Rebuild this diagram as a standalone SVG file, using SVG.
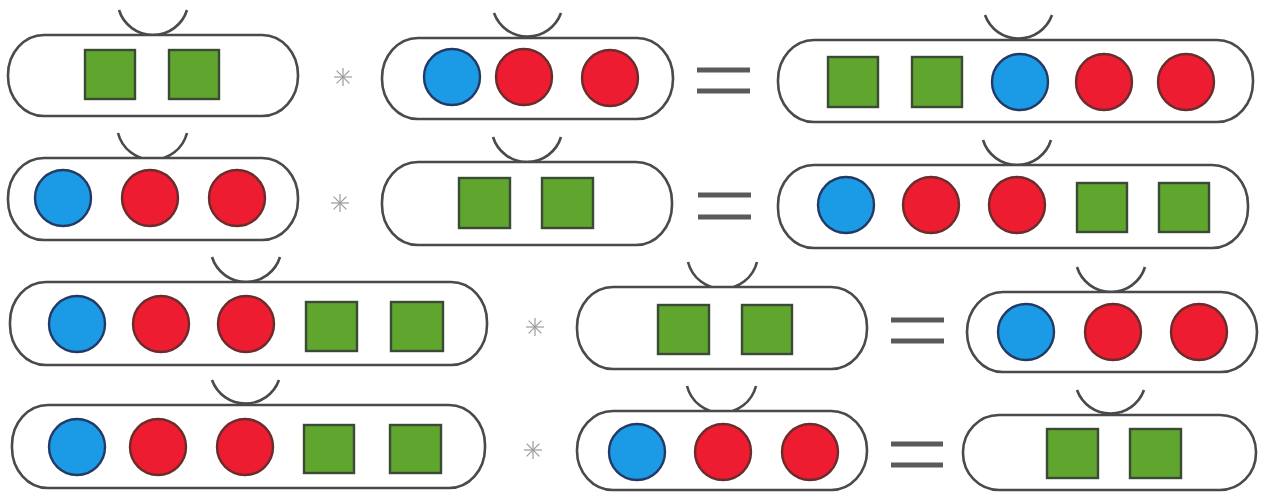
<svg xmlns="http://www.w3.org/2000/svg" width="1263" height="492" viewBox="0 0 1263 492">
<style>
.pill{fill:#fff;stroke:#4a4a4a;stroke-width:2.6}
.hdl{fill:none;stroke:#4a4a4a;stroke-width:2.6}
.sq{fill:#5fa52e;stroke:#3b4a34;stroke-width:2.4}
.bl{fill:#1b9be6;stroke:#243a66;stroke-width:2.4}
.rd{fill:#ee1c30;stroke:#6b2c2c;stroke-width:2.4}
.eq{stroke:#5a5a5a;stroke-width:5}
.ast{stroke:#9a9a9a;stroke-width:1.2}
</style>
<defs>
<g id="star"><line class="ast" x1="-9" y1="0" x2="9" y2="0"/><line class="ast" x1="0" y1="-9" x2="0" y2="9"/><line class="ast" x1="-6.4" y1="-6.4" x2="6.4" y2="6.4"/><line class="ast" x1="-6.4" y1="6.4" x2="6.4" y2="-6.4"/></g>
</defs>
<rect width="1263" height="492" fill="#fff"/>

<g id="connectors">
<use href="#star" x="343" y="77"/>
<use href="#star" x="340" y="203"/>
<use href="#star" x="535" y="327"/>
<use href="#star" x="533" y="450"/>
<line class="eq" x1="697" y1="70" x2="750" y2="70"/><line class="eq" x1="697" y1="91" x2="750" y2="91"/>
<line class="eq" x1="698" y1="195" x2="751" y2="195"/><line class="eq" x1="698" y1="217" x2="751" y2="217"/>
<line class="eq" x1="891" y1="320" x2="944" y2="320"/><line class="eq" x1="891" y1="341" x2="944" y2="341"/>
<line class="eq" x1="891" y1="444" x2="943" y2="444"/><line class="eq" x1="891" y1="465" x2="943" y2="465"/>
</g>

<!-- Row 1 -->
<g id="r1a">
<path class="hdl" d="M119,10 A35.6,35.6 0 0 0 187,10"/>
<rect class="pill" x="8" y="35" width="290" height="81" rx="36" ry="40"/>
<rect class="sq" x="85" y="50" width="50" height="49"/>
<rect class="sq" x="169" y="50" width="50" height="49"/>
</g>
<g id="r1b">
<path class="hdl" d="M494,13 A35.6,35.6 0 0 0 561,13"/>
<rect class="pill" x="382" y="38" width="291" height="81" rx="36" ry="40"/>
<circle class="bl" cx="452" cy="77" r="28"/>
<circle class="rd" cx="524" cy="77" r="28"/>
<circle class="rd" cx="610" cy="78" r="28"/>
</g>
<g id="r1c">
<path class="hdl" d="M985,15 A35.6,35.6 0 0 0 1052,15"/>
<rect class="pill" x="778" y="40" width="475" height="82" rx="36" ry="40"/>
<rect class="sq" x="828" y="57" width="50" height="50"/>
<rect class="sq" x="912" y="57" width="50" height="50"/>
<circle class="bl" cx="1020" cy="82" r="28"/>
<circle class="rd" cx="1104" cy="82" r="28"/>
<circle class="rd" cx="1186" cy="82" r="28"/>
</g>

<!-- Row 2 -->
<g id="r2a">
<path class="hdl" d="M118,133 A35.6,35.6 0 0 0 187,133"/>
<rect class="pill" x="8" y="158" width="290" height="82" rx="36" ry="40"/>
<circle class="bl" cx="63" cy="198" r="28"/>
<circle class="rd" cx="150" cy="198" r="28"/>
<circle class="rd" cx="237" cy="198" r="28"/>
</g>
<g id="r2b">
<path class="hdl" d="M493,137 A35.6,35.6 0 0 0 561,137"/>
<rect class="pill" x="382" y="162" width="290" height="83" rx="36" ry="40"/>
<rect class="sq" x="459" y="178" width="51" height="50"/>
<rect class="sq" x="542" y="178" width="51" height="50"/>
</g>
<g id="r2c">
<path class="hdl" d="M983,140 A35.6,35.6 0 0 0 1051,140"/>
<rect class="pill" x="778" y="165" width="470" height="83" rx="36" ry="40"/>
<circle class="bl" cx="846" cy="205" r="28"/>
<circle class="rd" cx="931" cy="205" r="28"/>
<circle class="rd" cx="1017" cy="205" r="28"/>
<rect class="sq" x="1077" y="183" width="50" height="49"/>
<rect class="sq" x="1159" y="183" width="50" height="49"/>
</g>

<!-- Row 3 -->
<g id="r3a">
<path class="hdl" d="M212,257 A35.6,35.6 0 0 0 280,257"/>
<rect class="pill" x="10" y="282" width="477" height="83" rx="36" ry="40"/>
<circle class="bl" cx="77" cy="324" r="28"/>
<circle class="rd" cx="161" cy="324" r="28"/>
<circle class="rd" cx="246" cy="324" r="28"/>
<rect class="sq" x="306" y="302" width="51" height="49"/>
<rect class="sq" x="391" y="302" width="52" height="49"/>
</g>
<g id="r3b">
<path class="hdl" d="M688,262 A35.6,35.6 0 0 0 757,262"/>
<rect class="pill" x="577" y="287" width="290" height="82" rx="36" ry="40"/>
<rect class="sq" x="658" y="305" width="51" height="49"/>
<rect class="sq" x="742" y="305" width="50" height="49"/>
</g>
<g id="r3c">
<path class="hdl" d="M1077,267 A35.6,35.6 0 0 0 1145,267"/>
<rect class="pill" x="967" y="292" width="290" height="80" rx="36" ry="40"/>
<circle class="bl" cx="1026" cy="332" r="28"/>
<circle class="rd" cx="1113" cy="332" r="28"/>
<circle class="rd" cx="1199" cy="332" r="28"/>
</g>

<!-- Row 4 -->
<g id="r4a">
<path class="hdl" d="M212,380 A35.6,35.6 0 0 0 279,380"/>
<rect class="pill" x="12" y="405" width="473" height="83" rx="36" ry="40"/>
<circle class="bl" cx="77" cy="447" r="28"/>
<circle class="rd" cx="158" cy="447" r="28"/>
<circle class="rd" cx="245" cy="447" r="28"/>
<rect class="sq" x="304" y="425" width="50" height="48"/>
<rect class="sq" x="390" y="425" width="51" height="48"/>
</g>
<g id="r4b">
<path class="hdl" d="M687,386 A35.6,35.6 0 0 0 756,386"/>
<rect class="pill" x="577" y="411" width="290" height="79" rx="36" ry="39"/>
<circle class="bl" cx="637" cy="452" r="28"/>
<circle class="rd" cx="723" cy="452" r="28"/>
<circle class="rd" cx="810" cy="452" r="28"/>
</g>
<g id="r4c">
<path class="hdl" d="M1077,390 A35.6,35.6 0 0 0 1144,390"/>
<rect class="pill" x="963" y="415" width="293" height="75" rx="36" ry="37"/>
<rect class="sq" x="1047" y="429" width="51" height="49"/>
<rect class="sq" x="1130" y="429" width="51" height="49"/>
</g>
</svg>
